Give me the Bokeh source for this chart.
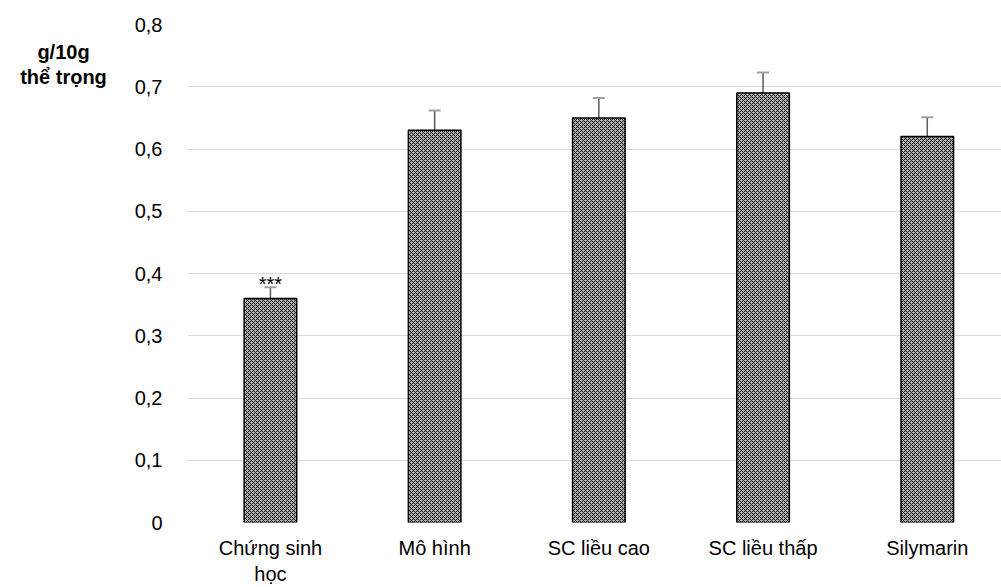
from bokeh.plotting import figure
from bokeh.models import (ColumnDataSource, Range1d, FixedTicker, Whisker, TeeHead, Div)
from bokeh.layouts import row
from bokeh.core.properties import value
from bokeh.embed import file_html
from bokeh.resources import INLINE

categories = ["Chứng sinh\nhọc", "Mô hình", "SC liều cao", "SC liều thấp", "Silymarin"]
values = [0.36, 0.63, 0.65, 0.69, 0.62]
errors = [0.018, 0.032, 0.032, 0.033, 0.031]
marks = ["***", "", "", "", ""]
y_ticks = [0, 0.1, 0.2, 0.3, 0.4, 0.5, 0.6, 0.7, 0.8]
y_tick_labels = ["0", "0,1", "0,2", "0,3", "0,4", "0,5", "0,6", "0,7", "0,8"]
y_title = ["g/10g", "thể trọng"]

FONT = "Liberation Sans"

xs = list(range(len(categories)))
upper = [v + e for v, e in zip(values, errors)]
src = ColumnDataSource(dict(x=xs, top=values, upper=upper, mark=marks))

DIV_W = 127
p = figure(width=1001 - DIV_W, height=587, output_backend="svg", toolbar_location=None,
           x_range=Range1d(-0.505, 4.452), y_range=Range1d(0, 0.8),
           min_border_left=187 - DIV_W, min_border_right=0, min_border_top=24,
           min_border_bottom=64)
p.outline_line_color = None
p.background_fill_color = "white"
p.border_fill_color = "white"

p.vbar(x="x", top="top", width=0.32, source=src, fill_color="#b8b8b8",
       hatch_pattern="diagonal_cross", hatch_color="black", hatch_scale=4,
       hatch_weight=1, line_color="black", line_width=1.5)

w = Whisker(source=src, base="x", upper="upper", lower="top",
            line_color="#5a5a5a", line_width=1.5,
            upper_head=TeeHead(size=12, line_color="#a0a0a0", line_width=2),
            lower_head=None)
p.add_layout(w)

p.text(x="x", y="upper", text="mark", source=src, text_align="center",
       text_baseline="alphabetic", y_offset=-3, text_font=value(FONT),
       text_font_size="20px", text_color="black")

p.xaxis.ticker = FixedTicker(ticks=xs)
p.xaxis.major_label_overrides = {i: c for i, c in zip(xs, categories)}
p.yaxis.ticker = FixedTicker(ticks=y_ticks)
p.yaxis.major_label_overrides = {t: l for t, l in zip(y_ticks, y_tick_labels)}

for ax in (p.xaxis, p.yaxis):
    ax.axis_line_color = None
    ax.major_tick_line_color = None
    ax.minor_tick_line_color = None
    ax.major_label_text_font = FONT
    ax.major_label_text_font_size = "20px"
    ax.major_label_text_color = "black"
p.xaxis.major_label_standoff = 8
p.yaxis.major_label_standoff = 19

p.xgrid.grid_line_color = None
p.ygrid.ticker = FixedTicker(ticks=y_ticks)
p.ygrid.grid_line_color = "#d9d9d9"
p.ygrid.grid_line_width = 1

title_div = Div(text="<br>".join(y_title), width=DIV_W, height=587, margin=0,
                styles={"font-family": FONT, "font-size": "20px",
                        "font-weight": "bold", "line-height": "25px",
                        "text-align": "center", "padding-top": "40px",
                        "color": "black", "width": f"{DIV_W}px"})

layout = row(title_div, p, spacing=0)
open("out.html", "w").write(file_html(layout, INLINE))
